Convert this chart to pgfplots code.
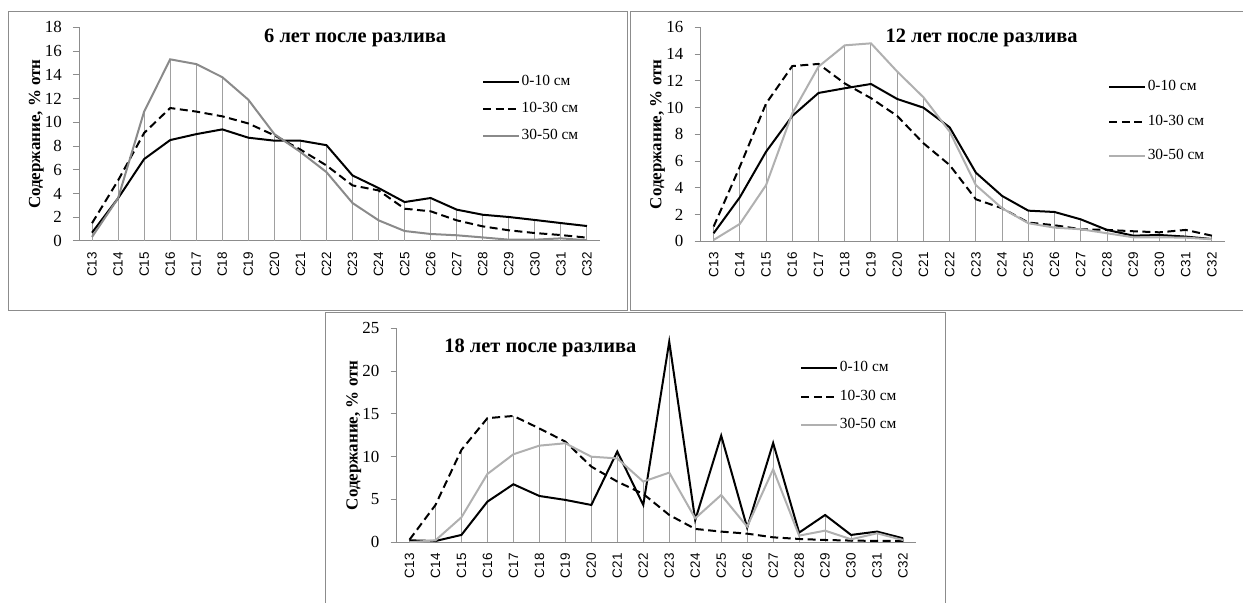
\documentclass[border=0pt]{standalone}
\usepackage{fontspec}
\setmainfont{Liberation Serif}
\setsansfont{Liberation Sans}
\usepackage{pgfplots}
\usepackage{pgfplotstable}
\pgfplotsset{compat=1.18}

\definecolor{framegray}{HTML}{8C8C8C}
\definecolor{dropgray}{HTML}{A0A0A0}
\definecolor{midgray}{HTML}{8A8A8A}
\definecolor{palegray}{HTML}{B0B0B0}

% x: C13 ... C32 as 0 ... 19; a = 0-10 см, b = 10-30 см, c = 30-50 см
\pgfplotstableread{
x a b c
0 0.70 1.50 0.34
1 3.60 5.10 3.60
2 6.90 9.10 10.90
3 8.50 11.20 15.30
4 9.00 10.90 14.90
5 9.40 10.50 13.80
6 8.70 9.90 11.90
7 8.45 8.90 9.00
8 8.45 7.70 7.50
9 8.07 6.36 5.80
10 5.52 4.68 3.20
11 4.46 4.26 1.74
12 3.28 2.72 0.84
13 3.62 2.50 0.59
14 2.64 1.74 0.48
15 2.21 1.23 0.30
16 2.02 0.90 0.11
17 1.77 0.67 0.11
18 1.51 0.50 0.22
19 1.26 0.28 0.06
}\sixyears

\pgfplotstableread{
x a b c
0 0.60 1.10 0.10
1 3.29 5.58 1.30
2 6.70 10.30 4.20
3 9.37 13.10 9.57
4 11.09 13.26 13.06
5 11.44 11.80 14.65
6 11.76 10.70 14.80
7 10.64 9.37 12.69
8 9.99 7.33 10.77
9 8.52 5.70 8.20
10 5.13 3.14 4.20
11 3.39 2.47 2.47
12 2.29 1.40 1.35
13 2.19 1.20 1.02
14 1.64 0.90 0.90
15 0.85 0.85 0.60
16 0.42 0.75 0.30
17 0.47 0.67 0.30
18 0.35 0.85 0.27
19 0.17 0.42 0.15
}\twelveyears

\pgfplotstableread{
x a b c
0 0.23 0.30 0.00
1 0.15 4.36 0.23
2 0.86 10.80 2.92
3 4.75 14.50 7.98
4 6.78 14.76 10.28
5 5.41 13.30 11.29
6 4.95 11.76 11.57
7 4.36 8.84 10.00
8 10.60 7.09 9.80
9 4.36 5.65 7.09
10 23.44 3.19 8.14
11 2.60 1.56 2.80
12 12.46 1.25 5.53
13 1.71 1.01 1.83
14 11.60 0.58 8.53
15 1.13 0.39 0.78
16 3.19 0.27 1.36
17 0.86 0.20 0.35
18 1.25 0.16 1.05
19 0.47 0.16 0.27
}\eighteenyears

\tikzset{ttl/.style={font=\bfseries\fontsize{20.5}{22}\selectfont}}

\pgfplotsset{
  panel/.style={
    scale only axis,
    axis x line*=bottom, axis y line*=left,
    axis line style={framegray, line width=1bp},
    xmin=-0.5, xmax=19.5, ymin=0,
    xtick={0,...,19},
    xticklabels={C13,C14,C15,C16,C17,C18,C19,C20,C21,C22,C23,C24,C25,C26,C27,C28,C29,C30,C31,C32},
    xtick style={draw=none},
    ytick style={framegray, line width=1bp},
    tick align=outside, major tick length=6bp,
    /pgf/number format/assume math mode=true,
    xticklabel style={rotate=90, anchor=east, inner sep=0pt,
      font=\sffamily\fontsize{13.5}{14}\selectfont},
    xticklabel shift=5bp,
    yticklabel style={inner sep=0pt, font=\fontsize{17}{18}\selectfont},
    yticklabel shift=11bp,
    ylabel={Содержание, \% отн},
    ylabel style={at={(rel axis cs:-0.082,0.5)}, anchor=center, rotate=0,
      font=\bfseries\fontsize{17}{18}\selectfont},
    legend cell align=left,
    legend image code/.code={\draw[##1] (0bp,0bp) -- (36bp,0bp);},
    legend style={draw=none, fill=none, inner sep=0pt, anchor=north west,
      font=\fontsize{15.5}{16}\selectfont,
      nodes={inner sep=1.5bp, text height=10bp, text depth=3bp}},
  },
  drop/.style={ycomb, dropgray, line width=1bp, forget plot},
  s0/.style={black, line width=2bp},
  s1/.style={black, line width=2bp, dash pattern=on 8bp off 4.5bp},
}

\begin{document}
\begin{tikzpicture}[x=1bp, y=1bp]
\useasboundingbox (0,0) rectangle (1243,603);

% panel frames
\draw[framegray, line width=1bp] (8.5,292.5) rectangle (627.5,591.5);
\draw[framegray, line width=1bp] (1260,292.5) -- (630.5,292.5) -- (630.5,591.5) -- (1260,591.5);
\draw[framegray, line width=1bp] (325.5,-5) -- (325.5,290.5) -- (945.5,290.5) -- (945.5,-5);

% 6 years
\begin{axis}[panel, at={(79bp,362bp)}, anchor=south west,
    width=521bp, height=213.7bp, ymax=18, ytick={0,2,...,18},
    legend style={at={(rel axis cs:0.7735,0.781)}, row sep=11bp}]
  \addplot[drop] table[x=x, y=a] {\sixyears};
  \addplot[drop] table[x=x, y=b] {\sixyears};
  \addplot[drop] table[x=x, y=c] {\sixyears};
  \addplot[s0] table[x=x, y=a] {\sixyears};
  \addplot[s1] table[x=x, y=b] {\sixyears};
  \addplot[midgray, line width=2bp] table[x=x, y=c] {\sixyears};
  \legend{0-10 см, 10-30 см, 30-50 см}
  \node[ttl] at (rel axis cs:0.53,0.95) {6 лет после разлива};
\end{axis}

% 12 years
\begin{axis}[panel, at={(700.5bp,361.7bp)}, anchor=south west,
    width=524.5bp, height=214bp, ymax=16, ytick={0,2,...,16},
    legend style={at={(rel axis cs:0.777,0.758)}, row sep=18.5bp}]
  \addplot[drop] table[x=x, y=a] {\twelveyears};
  \addplot[drop] table[x=x, y=b] {\twelveyears};
  \addplot[drop] table[x=x, y=c] {\twelveyears};
  \addplot[s0] table[x=x, y=a] {\twelveyears};
  \addplot[s1] table[x=x, y=b] {\twelveyears};
  \addplot[palegray, line width=2bp] table[x=x, y=c] {\twelveyears};
  \legend{0-10 см, 10-30 см, 30-50 см}
  \node[ttl] at (rel axis cs:0.536,0.95) {12 лет после разлива};
\end{axis}

% 18 years
\begin{axis}[panel, at={(396.5bp,60.7bp)}, anchor=south west,
    width=519.5bp, height=214bp, ymax=25, ytick={0,5,...,25},
    legend style={at={(rel axis cs:0.777,0.852)}, row sep=12.5bp}]
  \addplot[drop] table[x=x, y=a] {\eighteenyears};
  \addplot[drop] table[x=x, y=b] {\eighteenyears};
  \addplot[drop] table[x=x, y=c] {\eighteenyears};
  \addplot[s0] table[x=x, y=a] {\eighteenyears};
  \addplot[s1] table[x=x, y=b] {\eighteenyears};
  \addplot[palegray, line width=2bp] table[x=x, y=c] {\eighteenyears};
  \legend{0-10 см, 10-30 см, 30-50 см}
  \node[ttl] at (rel axis cs:0.277,0.908) {18 лет после разлива};
\end{axis}
\end{tikzpicture}
\end{document}
